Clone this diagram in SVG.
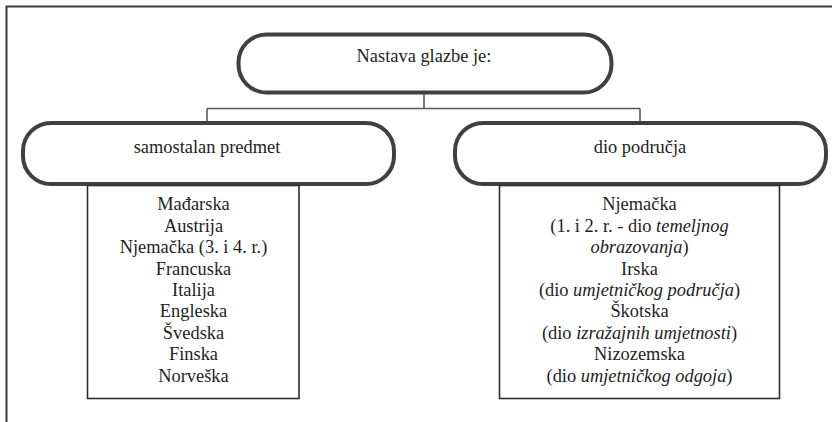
<svg xmlns="http://www.w3.org/2000/svg" width="832" height="422" viewBox="0 0 832 422">
<style>
text{font-family:"Liberation Serif","DejaVu Serif",serif;font-size:18.4px;fill:#1e1e1e;text-anchor:middle}
.pill{fill:#fff;stroke:#404040;stroke-width:4}
.box{fill:#fff;stroke:#2e2e2e;stroke-width:1.6}
.conn{fill:none;stroke:#5a5a5a;stroke-width:1.6}
.frame{fill:none;stroke:#3a3a3a;stroke-width:2}
.it{font-style:italic}
</style>
<rect width="832" height="422" fill="#fff"/>
<path class="frame" d="M6.5 422 V6.5 H832"/>
<g id="connectors">
<path class="conn" d="M424 93 V108.5"/>
<path class="conn" d="M207 108.5 H640"/>
<path class="conn" d="M207 108.5 V122"/>
<path class="conn" d="M640 108.5 V122"/>
</g>
<g id="root">
<rect class="pill" x="238.5" y="34.5" width="373" height="58" rx="28"/>
<text x="424" y="62">Nastava glazbe je:</text>
</g>
<g id="samostalan">
<rect class="pill" x="23" y="123" width="371" height="61" rx="28"/>
<text x="207" y="153">samostalan predmet</text>
</g>
<g id="podrucja">
<rect class="pill" x="455" y="123" width="371" height="61" rx="28"/>
<text x="640" y="153">dio područja</text>
</g>
<g id="list-samostalan">
<rect class="box" x="87.5" y="185.5" width="211.5" height="213"/>
<text x="193.5" y="210">Mađarska</text>
<text x="193.5" y="231.5">Austrija</text>
<text x="193.5" y="253">Njemačka (3. i 4. r.)</text>
<text x="193.5" y="274.5">Francuska</text>
<text x="193.5" y="296">Italija</text>
<text x="193.5" y="317">Engleska</text>
<text x="193.5" y="338.5">Švedska</text>
<text x="193.5" y="360">Finska</text>
<text x="193.5" y="381.5">Norveška</text>
</g>
<g id="list-podrucja">
<rect class="box" x="499.5" y="185.5" width="280" height="213"/>
<text x="639.5" y="210">Njemačka</text>
<text x="639.5" y="231.5">(1. i 2. r. - dio <tspan class="it">temeljnog</tspan></text>
<text x="639.5" y="253"><tspan class="it">obrazovanja</tspan>)</text>
<text x="639.5" y="274.5">Irska</text>
<text x="639.5" y="296">(dio <tspan class="it">umjetničkog područja</tspan>)</text>
<text x="639.5" y="317">Škotska</text>
<text x="639.5" y="338.5">(dio <tspan class="it">izražajnih umjetnosti</tspan>)</text>
<text x="639.5" y="360">Nizozemska</text>
<text x="639.5" y="381.5">(dio <tspan class="it">umjetničkog odgoja</tspan>)</text>
</g>
</svg>
